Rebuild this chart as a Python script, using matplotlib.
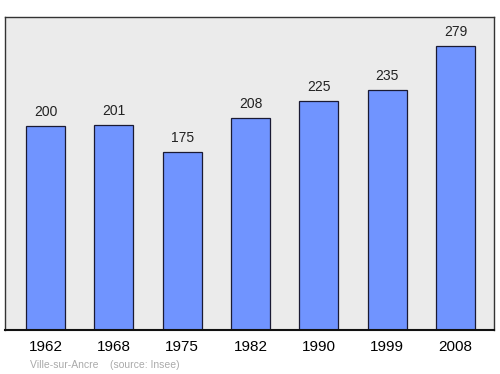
import matplotlib
matplotlib.use("Agg")
import matplotlib.pyplot as plt

years = ["1962", "1968", "1975", "1982", "1990", "1999", "2008"]
population = [200, 201, 175, 208, 225, 235, 279]
footer = "Ville-sur-Ancre    (source: Insee)"

plt.rcParams['font.family'] = ['Liberation Sans', 'DejaVu Sans']
W, H = 500, 374
fig = plt.figure(figsize=(W/100, H/100), dpi=100)
ax = fig.add_axes([5/W, 1-330/H, 489/W, 313/H])
ax.set_facecolor('#ebebeb')
x = list(range(len(years)))
ax.bar(x, population, width=0.57, color='#7094ff', edgecolor='#1a1a33', linewidth=0.9, zorder=2)
for xi, v in zip(x, population):
    ax.annotate(str(v), (xi, v), xytext=(0, 5), textcoords='offset points',
                ha='center', va='bottom', fontsize=10, color='#222222')
ax.set_xlim(-0.593, 6.564)
ax.set_ylim(0, 307)
ax.set_yticks([])
ax.set_xticks(x)
ax.set_xticklabels(years, fontsize=11)
ax.tick_params(axis='x', length=0, pad=7.5)
for s in ['left', 'right', 'top']:
    ax.spines[s].set_color('#333333')
    ax.spines[s].set_linewidth(1.0)
ax.spines['bottom'].set_color('#111111')
ax.spines['bottom'].set_linewidth(1.5)
fig.text(30/W, 1-365/H, footer, fontsize=7.5, color='#aaaaaa', va='center', ha='left')
fig.savefig("out.png", dpi=100)
